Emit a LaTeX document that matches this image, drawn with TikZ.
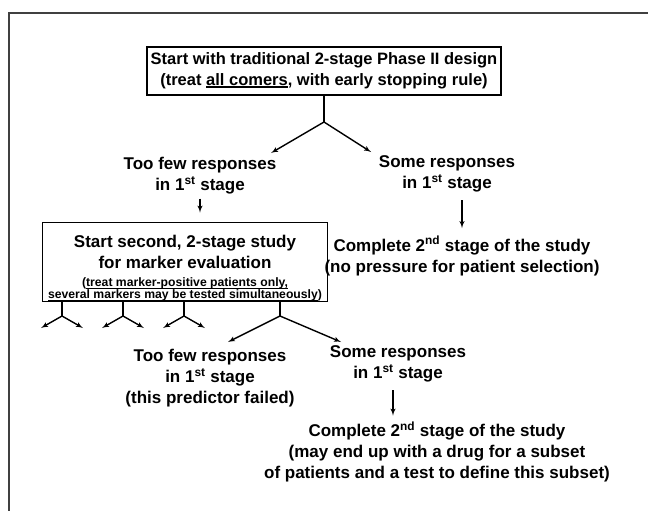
\documentclass[tikz,border=0pt]{standalone}
\usepackage{fontspec}
\setmainfont{Liberation Sans}
\usetikzlibrary{arrows,calc}
\newcommand{\bigtxt}{\fontsize{17}{21}\selectfont}
\newcommand{\toptxt}{\fontsize{16.5}{21}\selectfont}
\newcommand{\smalltxt}{\fontsize{12.2}{12}\selectfont}
\newcommand{\undl}[2][0.9pt]{\setbox0\hbox{#2}\rlap{\rule[-1.8pt]{\wd0}{#1}}\box0}
\tikzstyle{block} = [rectangle, draw, line width=1.8pt, align=center,
inner sep=0pt, font=\bfseries\bigtxt]
\tikzstyle{cheap} = [align=center, inner sep=0pt, font=\bfseries\bigtxt]
\tikzstyle{line} = [draw, line width=1.4pt, -latex']
\tikzstyle{stem} = [draw, line width=1.4pt]
\tikzstyle{frame} = [draw, line width=2pt, black!75]

\begin{document}
\begin{tikzpicture}[x=1pt, y=-1pt]
	\useasboundingbox (0,0) rectangle (648,511);
	\path [frame] (9,511) |- (648,13);
	% Place nodes
	\node [block, font=\bfseries\toptxt, minimum width=354pt, minimum height=48pt] (design) at (324,71) {Start with traditional 2-stage Phase II design\\(treat \undl[1.2pt]{all comers}, with early stopping rule)};
	\node [cheap] (few) at (200,176) {Too few responses\\in 1\textsuperscript{st} stage};
	\node [cheap] (some) at (447,174) {Some responses\\in 1\textsuperscript{st} stage};
	\node [block, minimum width=285pt, minimum height=79pt] (marker) at (185,262) {\rule{0pt}{24.5pt}Start second, 2-stage study\\for marker evaluation\\[-2.5pt]
		\smalltxt(\undl{treat marker-positive patients only,}\\[-9pt]\smalltxt\undl{several markers may be tested simultaneously})};
	\node [cheap] (complete) at (462,256) {Complete 2\textsuperscript{nd} stage of the study\\(no pressure for patient selection)};
	\node [cheap] (failed) at (210,378) {Too few responses\\in 1\textsuperscript{st} stage\\(this predictor failed)};
	\node [cheap] (someB) at (398,364) {Some responses\\in 1\textsuperscript{st} stage};
	\node [cheap] (subset) at (437,452) {Complete 2\textsuperscript{nd} stage of the study\\(may end up with a drug for a subset\\of patients and a test to define this subset)};
	%
	% first fork
	\coordinate (split) at (324,122);
	\coordinate (toFew) at (271,153);
	\coordinate (toSome) at (371,152);
	\path [stem] (design) -- (split);
	\path [line] (split) -- (toFew);
	\path [line] (split) -- (toSome);
	\path [line, shorten <=4pt, shorten >=9pt] (few.south) -- (few.south |- marker.north);
	\path [line, shorten <=8pt, shorten >=8pt] (some.south -| complete.north) -- (complete.north);
	%
	% forks below the marker study
	\foreach \x in {62,123,184} {
		\path [stem] (marker.south -| \x,0) -- (\x,316);
		\path [line] (\x,316) -- ++(-21,12);
		\path [line] (\x,316) -- ++(21,12);
	}
	\coordinate (splitB) at (280,316);
	\coordinate (toFailed) at (228,342);
	\coordinate (toSomeB) at (341,342);
	\path [stem] (marker.south -| splitB) -- (splitB);
	\path [line] (splitB) -- (toFailed);
	\path [line] (splitB) -- (toSomeB);
	\path [line, shorten <=8pt, shorten >=6pt] (someB.south -| 393,0) -- (subset.north -| 393,0);
\end{tikzpicture}
\end{document}
